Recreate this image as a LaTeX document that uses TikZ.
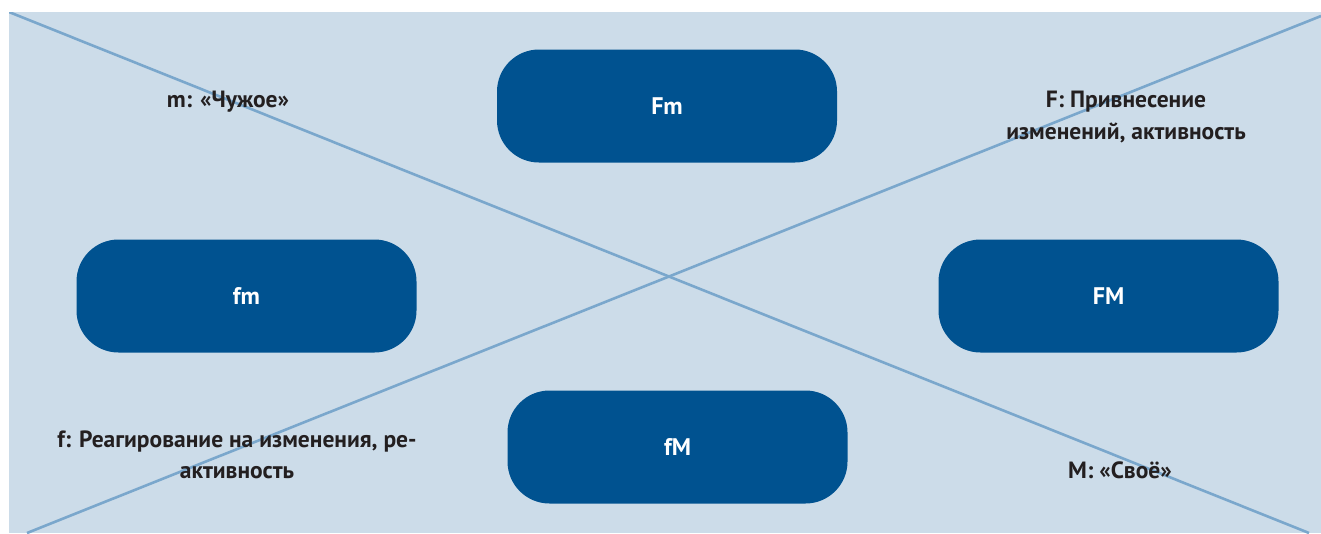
\documentclass[tikz,border=0pt]{standalone}
\usepackage{fontspec}
\setmainfont{PT Sans}
\definecolor{panelbg}{RGB}{204,220,233}
\definecolor{crossline}{RGB}{122,167,204}
\definecolor{pillblue}{RGB}{0,82,144}
\definecolor{inktext}{RGB}{35,31,32}
\tikzset{
  pill/.style={fill=pillblue, draw=none, rounded corners=42pt,
    minimum width=340pt, minimum height=113pt, inner sep=0pt,
    text=white, font=\bfseries\fontsize{24}{28}\selectfont},
  caption/.style={text=inktext, align=center, inner sep=0pt,
    font=\bfseries\fontsize{23.5}{31.5}\selectfont},
  diag/.style={draw=crossline, line width=2.6pt}
}
\begin{document}
\begin{tikzpicture}[x=1pt,y=-1pt]
  \useasboundingbox (0,0) rectangle (1321,533);
  \fill[white] (0,0) rectangle (1321,533);
  \fill[panelbg] (9,12) rectangle (1321,533);

  % diagonal cross
  \coordinate (tl) at (9,12);
  \coordinate (br) at (1309,533);
  \coordinate (tr) at (1321,16);
  \coordinate (bl) at (27,533);
  \begin{scope}
    \clip (9,12) rectangle (1321,533);
    \draw[diag] (tl) -- (br);
    \draw[diag] (bl) -- (tr);
  \end{scope}

  % pills
  \node[pill] (Fm) at (667,106) {Fm};
  \node[pill] (fm) at (246.5,296) {fm};
  \node[pill] (FM) at (1108.5,296) {FM};
  \node[pill] (fM) at (677.5,447) {fM};

  % captions
  \node[caption, anchor=base] (capm) at (228,107) {m: «Чужое»};
  \node[caption, anchor=center] (capF) at (1126,117) {F: Привнесение\\изменений, активность};
  \node[caption, anchor=center] (capf) at (237,455) {f: Реагирование на изменения, ре-\\активность};
  \node[caption, anchor=base] (capM) at (1120,478) {M: «Своё»};
\end{tikzpicture}
\end{document}
